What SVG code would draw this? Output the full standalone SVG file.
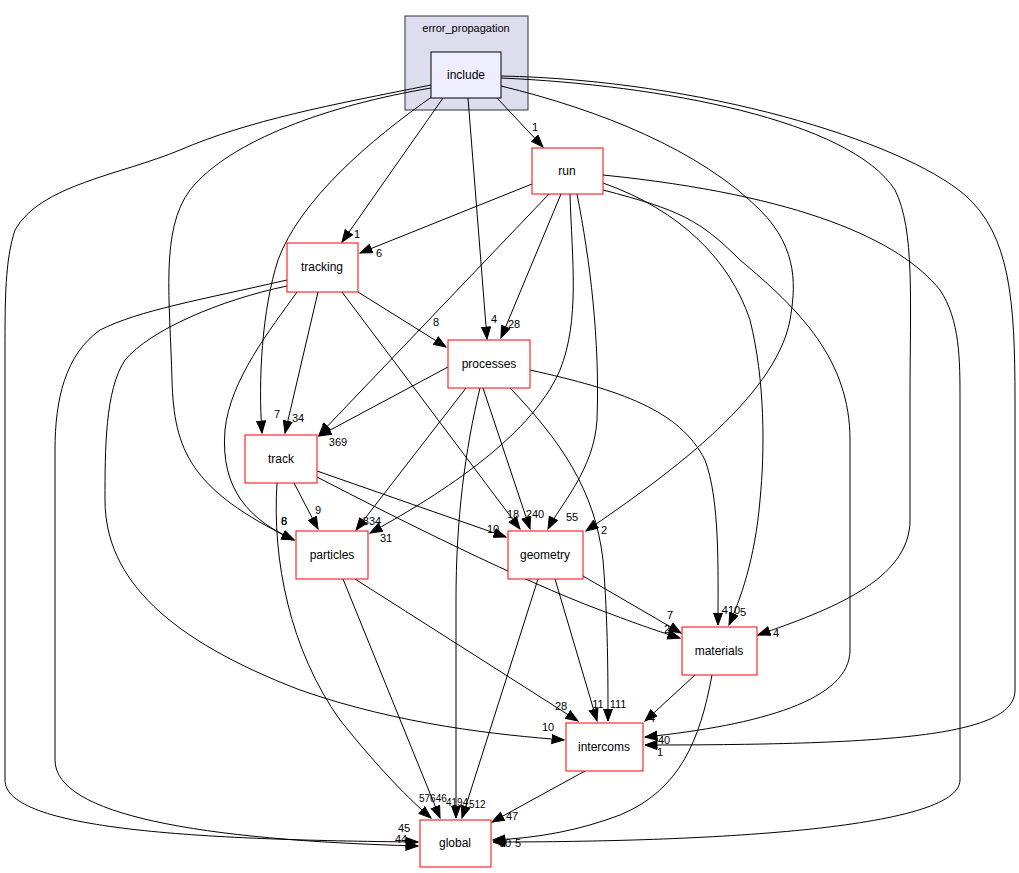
<svg xmlns="http://www.w3.org/2000/svg" width="1019" height="873" viewBox="0 0 1019 873">
<style>
text{font-family:"Liberation Sans",Arial,sans-serif;font-size:11px;fill:#000}
.n{text-anchor:middle;font-size:12px}
.l{text-anchor:middle}
.s{font-size:10px}
.node{fill:#fff;stroke:#ff0000;stroke-width:1}
#edges path{fill:none;stroke:#000;stroke-width:1;marker-end:url(#ah)}
</style>
<defs>
<marker id="ah" markerUnits="userSpaceOnUse" markerWidth="14" markerHeight="11" refX="12.5" refY="5" orient="auto">
<path d="M0.5,0.5 L12.5,5 L0.5,9.5 z" fill="#000" stroke="#000"/>
</marker>
</defs>
<rect width="1019" height="873" fill="#fff"/>
<g id="cluster_error_propagation">
<rect x="405" y="16" width="123" height="94" fill="#ddddee" stroke="#333"/>
<text x="466" y="32" class="l">error_propagation</text>
</g>
<g id="edges">
<path d="M497,98 L543,147"/>
<path d="M443,98 L342,242"/>
<path d="M468,98 L487,339"/>
<path d="M433,96 C370,140 300,200 278,260 C262,310 258,380 262,433"/>
<path d="M431,88 C330,105 230,140 190,190 C160,230 170,300 172,380 C174,450 190,490 294,540"/>
<path d="M431,85 C330,105 250,120 180,150 C120,175 40,185 15,230 C5,260 5,300 5,350 L5,780 C5,830 200,840 418,842"/>
<path d="M501,86 C600,110 700,150 760,210 C800,250 795,290 790,320 C775,400 660,480 586,531"/>
<path d="M501,78 C660,85 850,120 895,190 C915,230 910,300 910,400 L910,520 C910,580 830,610 758,635"/>
<path d="M501,76 C700,80 900,140 965,195 C1010,235 1015,300 1015,400 L1015,690 C1015,735 900,745 645,745"/>
<path d="M603,175 C800,195 900,240 940,290 C960,320 960,360 960,400 L960,780 C960,830 700,842 493,842"/>
<path d="M603,190 C680,210 700,220 740,260 C800,310 850,360 850,440 L850,650 C850,700 760,725 645,737"/>
<path d="M603,183 C680,210 730,260 750,320 C765,380 765,450 760,500 C755,560 740,600 729,625"/>
<path d="M570,194 C572,260 580,320 560,370 C530,440 430,500 370,533"/>
<path d="M577,194 C590,260 600,340 597,420 C594,470 560,505 548,529"/>
<path d="M561,194 L501,338"/>
<path d="M532,184 L360,253"/>
<path d="M549,194 L319,435"/>
<path d="M287,280 C200,300 140,310 100,330 C65,355 55,400 55,450 L55,760 C55,815 200,840 418,846"/>
<path d="M287,286 C220,300 150,330 125,360 C105,390 105,450 105,500 C105,580 170,640 300,690 C400,725 500,735 564,740"/>
<path d="M297,292 C270,330 230,380 225,430 C220,490 250,520 294,540"/>
<path d="M358,292 L446,347"/>
<path d="M318,292 L285,433"/>
<path d="M342,292 L520,529"/>
<path d="M530,370 C620,390 680,410 705,460 C720,500 718,570 718,625"/>
<path d="M510,388 C560,440 595,490 603,560 C608,620 608,680 608,721"/>
<path d="M480,388 C465,450 456,520 456,600 L456,818"/>
<path d="M448,367 L319,436"/>
<path d="M466,388 L356,530"/>
<path d="M483,388 L530,529"/>
<path d="M294,483 L318,529"/>
<path d="M317,471 L506,537"/>
<path d="M317,477 C400,520 520,580 600,610 C640,625 660,632 680,638"/>
<path d="M277,483 C272,560 290,650 340,720 C380,770 410,800 431,818"/>
<path d="M343,579 L440,818"/>
<path d="M355,579 L578,721"/>
<path d="M583,576 L681,633"/>
<path d="M555,579 L597,721"/>
<path d="M538,579 L462,818"/>
<path d="M695,675 L645,721"/>
<path d="M712,675 C700,740 680,790 620,815 C580,830 540,838 493,840"/>
<path d="M585,771 L492,822"/>
</g>
<g id="edge-labels">
<text class="l" x="535" y="131">1</text>
<text class="l" x="357" y="238">1</text>
<text class="l" x="494" y="323">4</text>
<text class="l" x="277" y="418">7</text>
<text class="l" x="298" y="422">34</text>
<text class="l" x="324" y="431">1</text>
<text class="l" x="338" y="446">369</text>
<text class="l" x="284" y="525">6</text>
<text class="l" x="284" y="525">8</text>
<text class="l" x="318" y="514">9</text>
<text class="l" x="372" y="525">834</text>
<text class="l" x="386" y="542">31</text>
<text class="l" x="493" y="533">10</text>
<text class="l" x="513" y="518">18</text>
<text class="l" x="535" y="518">240</text>
<text class="l" x="572" y="521">55</text>
<text class="l" x="604" y="534">2</text>
<text class="l" x="670" y="619">7</text>
<text class="l" x="667" y="633">2</text>
<text class="l" x="731" y="614">410</text>
<text class="l" x="743" y="616">5</text>
<text class="l" x="776" y="637">4</text>
<text class="l" x="561" y="710">28</text>
<text class="l" x="598" y="708">11</text>
<text class="l" x="618" y="708">111</text>
<text class="l" x="652" y="722">4</text>
<text class="l" x="548" y="731">10</text>
<text class="l" x="664" y="744">40</text>
<text class="l" x="660" y="756">1</text>
<text class="l" x="512" y="820">47</text>
<text class="l" x="404" y="832">45</text>
<text class="l" x="401" y="843">44</text>
<text class="l" x="505" y="847">90</text>
<text class="l" x="518" y="847">5</text>
<text class="l" x="379" y="257">6</text>
<text class="l" x="514" y="328">28</text>
<text class="l" x="436" y="326">8</text>
<text class="s" x="419" y="802">57646</text>
<text class="s" x="446" y="806">4194</text>
<text class="s" x="469" y="808">512</text>
</g>
<g id="include">
<rect x="431" y="52" width="70" height="46" fill="#eeeeff" stroke="#000"/>
<text class="n" x="466" y="79">include</text>
</g>
<g id="run">
<rect class="node" x="532" y="148" width="71" height="46"/>
<text class="n" x="567" y="175">run</text>
</g>
<g id="tracking">
<rect class="node" x="287" y="243" width="71" height="49"/>
<text class="n" x="322" y="271">tracking</text>
</g>
<g id="processes">
<rect class="node" x="448" y="340" width="82" height="48"/>
<text class="n" x="489" y="368">processes</text>
</g>
<g id="track">
<rect class="node" x="245" y="435" width="72" height="48"/>
<text class="n" x="281" y="463">track</text>
</g>
<g id="particles">
<rect class="node" x="296" y="531" width="72" height="48"/>
<text class="n" x="332" y="559">particles</text>
</g>
<g id="geometry">
<rect class="node" x="508" y="531" width="75" height="48"/>
<text class="n" x="545" y="559">geometry</text>
</g>
<g id="materials">
<rect class="node" x="682" y="627" width="75" height="48"/>
<text class="n" x="719" y="655">materials</text>
</g>
<g id="intercoms">
<rect class="node" x="566" y="723" width="77" height="48"/>
<text class="n" x="604" y="751">intercoms</text>
</g>
<g id="global">
<rect class="node" x="420" y="820" width="71" height="47"/>
<text class="n" x="455" y="847">global</text>
</g>
</svg>
